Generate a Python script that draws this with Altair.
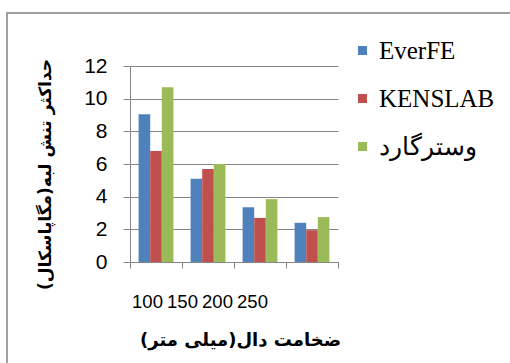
import altair as alt
import pandas as pd

categories = ["100", "150", "200", "250"]
series = ["EverFE", "KENSLAB", "وسترگارد"]
everfe = [9.05, 5.1, 3.35, 2.4]
kenslab = [6.8, 5.7, 2.7, 1.95]
westergaard = [10.7, 6.0, 3.85, 2.75]
colors = ["#4F81BD", "#C0504D", "#9BBB59"]
y_ticks = [0, 2, 4, 6, 8, 10, 12]
x_title = "ضخامت دال(میلی متر)"
y_title = "حداکثر تنش لبه(مگاپاسکال)"

rows = []
for name, vals in zip(series, [everfe, kenslab, westergaard]):
    for c, v in zip(categories, vals):
        rows.append({"thickness": c, "series": name, "value": v})
df = pd.DataFrame(rows)

label_shift = {
    "condition": [
        {"test": "datum.value == '100'", "value": -9},
        {"test": "datum.value == '150'", "value": -26},
        {"test": "datum.value == '200'", "value": -43},
        {"test": "datum.value == '250'", "value": -60},
    ],
    "value": 0,
}

bars = alt.Chart(df).mark_bar().encode(
    x=alt.X(
        "thickness:N",
        sort=categories,
        scale=alt.Scale(paddingInner=0, paddingOuter=0),
        axis=alt.Axis(
            title=x_title,
            labelAngle=0,
            tickBand="extent",
            labelOffset=label_shift,
            labelFontSize=18.5,
            labelFont="Liberation Sans",
            labelColor="#000000",
            labelPadding=24,
            tickSize=6,
            tickColor="#868686",
            domainColor="#868686",
            grid=False,
            titleFont="DejaVu Sans",
            titleFontSize=18,
            titleFontWeight="bold",
            titleColor="#000000",
            titleX=110,
            titleY=78,
            titleBaseline="middle",
            titleAlign="center",
        ),
    ),
    xOffset=alt.XOffset("series:N", sort=series, scale=alt.Scale(paddingOuter=0.74, paddingInner=0)),
    y=alt.Y(
        "value:Q",
        scale=alt.Scale(domain=[0, 12]),
        axis=alt.Axis(
            values=y_ticks,
            title=y_title,
            labelFontSize=21,
            labelFont="Liberation Sans",
            labelColor="#000000",
            labelPadding=16,
            tickSize=7,
            tickColor="#868686",
            domainColor="#868686",
            gridColor="#868686",
            titleFont="DejaVu Sans",
            titleFontSize=17,
            titleFontWeight="bold",
            titleColor="#000000",
            titleAngle=270,
            titleX=-85,
            titleY=108,
            titleBaseline="middle",
            titleAlign="center",
        ),
    ),
    color=alt.Color(
        "series:N",
        sort=series,
        scale=alt.Scale(domain=series, range=colors),
        legend=alt.Legend(
            title=None,
            orient="none",
            legendX=220,
            legendY=-28,
            symbolType="square",
            symbolSize=81,
            symbolStrokeWidth=0,
            labelFont="Liberation Serif",
            labelFontSize=25,
            labelColor="#000000",
            labelOffset=4,
            rowPadding=22,
            padding=0,
            labelLimit=300,
        ),
    ),
)

frame = alt.Chart(pd.DataFrame({"a": [0]})).mark_rect(
    fill="white", fillOpacity=0, stroke="#a0a0a0", strokeWidth=2
).encode(
    x=alt.value(-123), x2=alt.value(600), y=alt.value(-53), y2=alt.value(500)
)

chart = alt.layer(bars, frame).properties(
    width=208,
    height=196,
    padding={"left": 130, "top": 66, "right": 172, "bottom": 101},
    autosize=alt.AutoSizeParams(type="none"),
    background="white",
).configure_view(strokeWidth=0)

chart.save("out.html", embed_options={"renderer": "svg", "actions": False})
